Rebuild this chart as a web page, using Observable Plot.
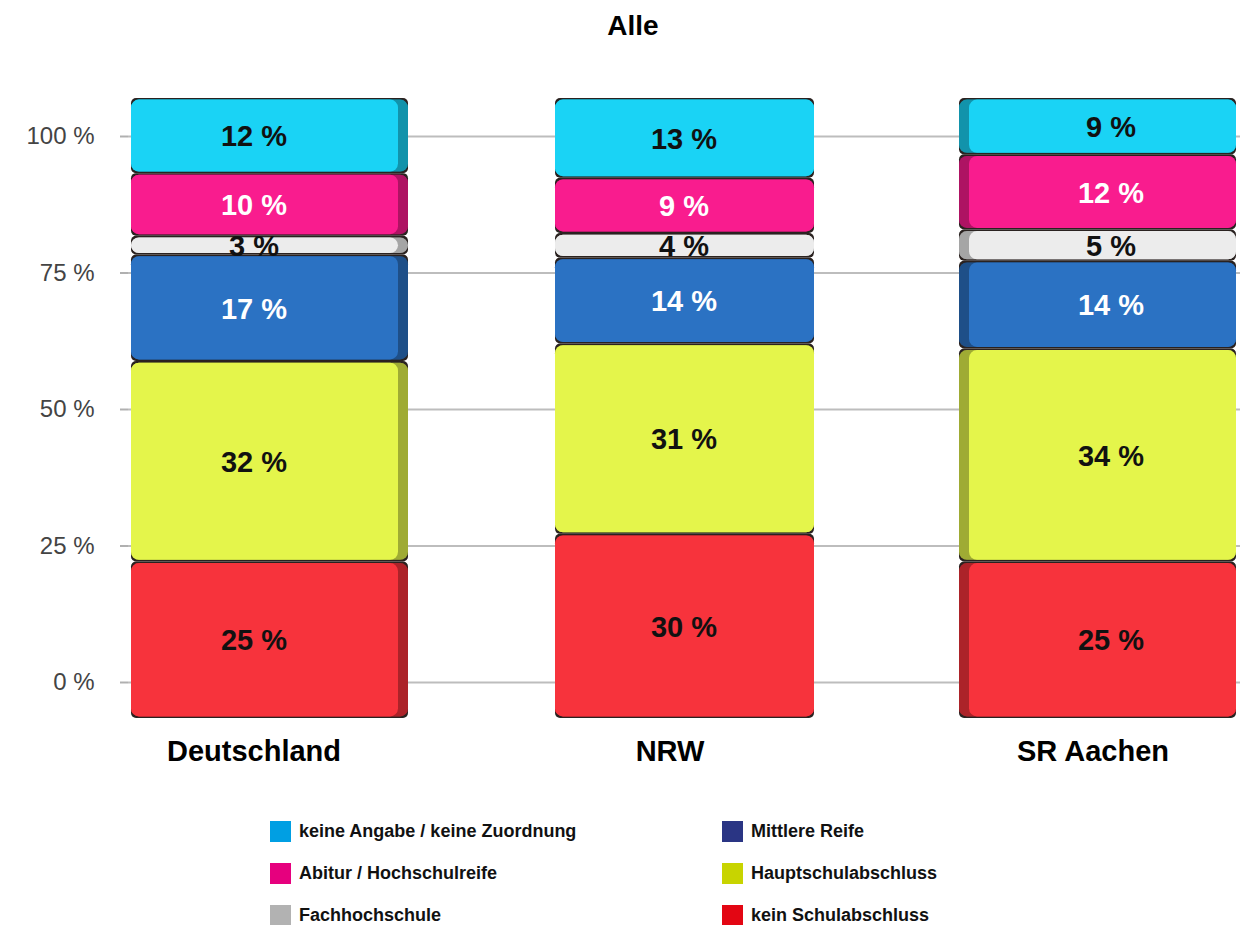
<!DOCTYPE html>
<html><head><meta charset="utf-8">
<script src="https://cdn.jsdelivr.net/npm/d3@7"></script>
<script src="https://cdn.jsdelivr.net/npm/@observablehq/plot@0.6"></script>
<style>
body{margin:0;background:#fff;font-family:"Liberation Sans",Arial,sans-serif;}
#page{position:relative;width:1242px;height:925px;overflow:hidden;background:#fff}
#title{position:absolute;left:0;top:9px;width:1242px;text-align:center;padding-left:24px;box-sizing:border-box;font-weight:bold;font-size:28px;color:#000;line-height:34px}
#chart{position:absolute;left:0;top:60px;width:1242px;height:720px}
#chart svg{position:absolute;left:0;top:0;background:transparent}
.leg{position:absolute;display:flex;align-items:center;font-weight:bold;font-size:18px;color:#111;white-space:nowrap}
.sw{width:21px;height:21px;margin-right:8px;flex:none}
</style></head><body>
<div id="page"><div id="title">Alle</div><div id="chart"></div></div>
<script>
// ---- data ----
const regions = ["Deutschland", "NRW", "SR Aachen"];
const categories = ["kein Schulabschluss", "Hauptschulabschluss", "Mittlere Reife", "Fachhochschule", "Abitur / Hochschulreife", "keine Angabe / keine Zuordnung"];
const deutschland = [25, 32, 17, 3, 10, 12];
const nrw = [30, 31, 14, 4, 9, 13];
const srAachen = [25, 34, 14, 5, 12, 9];
const yTicks = [0, 25, 50, 75, 100];
const legendLeft = ["keine Angabe / keine Zuordnung", "Abitur / Hochschulreife", "Fachhochschule"];
const legendRight = ["Mittlere Reife", "Hauptschulabschluss", "kein Schulabschluss"];

// ---- styles ----
const faceColor = {
  "kein Schulabschluss": "#f7333c",
  "Hauptschulabschluss": "#e4f54b",
  "Mittlere Reife": "#2b72c3",
  "Fachhochschule": "#ececec",
  "Abitur / Hochschulreife": "#f91c8e",
  "keine Angabe / keine Zuordnung": "#1ad3f5"
};
const legendColor = {
  "kein Schulabschluss": "#e30613",
  "Hauptschulabschluss": "#c8d400",
  "Mittlere Reife": "#2a3584",
  "Fachhochschule": "#b2b2b2",
  "Abitur / Hochschulreife": "#e6007e",
  "keine Angabe / keine Zuordnung": "#009fe3"
};
const whiteLabel = new Set(["Mittlere Reife", "Abitur / Hochschulreife"]);
const barInset = {"Deutschland": {}, "NRW": {insetLeft: 10, insetRight: 8}, "SR Aachen": {}};
const faceInset = {"Deutschland": {insetRight: 10}, "NRW": {insetLeft: 10, insetRight: 8}, "SR Aachen": {insetLeft: 10}};
const labelDx = {"Deutschland": -16, "NRW": 0, "SR Aachen": 13};
const axisDx = {"Deutschland": -16, "NRW": -14, "SR Aachen": -5};

const series = [deutschland, nrw, srAachen];
const data = regions.flatMap((r, i) => categories.map((c, j) => ({region: r, cat: c, value: series[i][j]})));

const font = {fontFamily: "'Liberation Sans', Arial, sans-serif", background: "transparent", overflow: "visible"};

// axis + grid layer
const axisPlot = Plot.plot({
  width: 1242, height: 720,
  marginTop: 76, marginBottom: 98, marginLeft: 128, marginRight: 2,
  style: font,
  y: {domain: [0, 100], label: null},
  marks: [
    Plot.ruleY(yTicks, {stroke: "#bdbdbd", strokeWidth: 2}),
    Plot.axisY(yTicks, {tickSize: 8, tickPadding: 26, fontSize: 24, fill: "#444", stroke: "#b0b0b0", strokeWidth: 2, label: null, tickFormat: d => d + " %"})
  ]
});

// bar layer
const st = (extra) => Plot.stackY({x: "region", y: "value", z: "cat", offset: "normalize", ...extra});
const marks = [];
for (const r of regions) {
  const f = d => d.region === r;
  marks.push(
    Plot.barY(data, st({filter: f, fill: "#2a2220", rx: 5, ...barInset[r]})),
    Plot.barY(data, st({filter: f, fill: d => faceColor[d.cat], insetTop: 1.6, insetBottom: 1.6, rx: 8, ...barInset[r]})),
    Plot.barY(data, st({filter: f, fill: "#000", fillOpacity: 0.3, insetTop: 1.6, insetBottom: 1.6, rx: 8, ...barInset[r]})),
    Plot.barY(data, st({filter: f, fill: d => faceColor[d.cat], insetTop: 1.6, insetBottom: 1.6, rx: 8, ...faceInset[r]}))
  );
}
for (const r of regions) {
  marks.push(Plot.text(data, st({filter: d => d.region === r, text: d => d.value + " %", fill: d => whiteLabel.has(d.cat) ? "#ffffff" : "#111111", fontSize: 29, fontWeight: "bold", dx: labelDx[r], dy: 1})));
  marks.push(Plot.axisX([r], {tickSize: 0, tickPadding: 22, fontSize: 29, fontWeight: "bold", fill: "#000", label: null, dx: axisDx[r]}));
}

const barPlot = Plot.plot({
  width: 1242, height: 720,
  marginTop: 38, marginBottom: 62, marginLeft: 130, marginRight: 4,
  style: font,
  x: {domain: regions, paddingInner: 0.33, paddingOuter: 0, label: null},
  y: {domain: [0, 1], axis: null},
  color: {type: "identity"},
  marks
});

const chart = document.getElementById("chart");
chart.appendChild(axisPlot);
chart.appendChild(barPlot);

// legend
const page = d3.select("#page");
const addLegend = (list, left) => list.forEach((c, i) => {
  const row = page.append("div").attr("class", "leg").style("left", left + "px").style("top", (821 + i * 42) + "px");
  row.append("div").attr("class", "sw").style("background", legendColor[c]);
  row.append("span").text(c);
});
addLegend(legendLeft, 270);
addLegend(legendRight, 722);
</script>
</body></html>
